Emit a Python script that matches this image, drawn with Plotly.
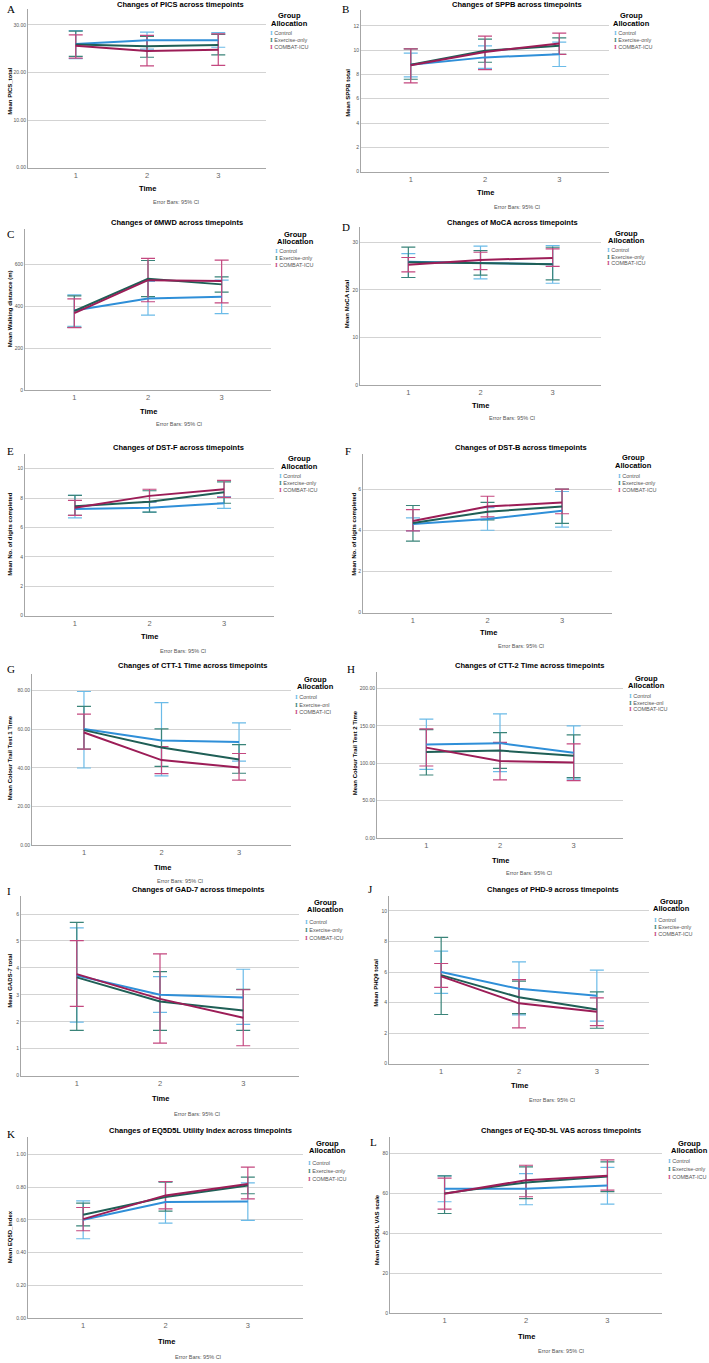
import plotly.graph_objects as go

W, H = 709, 1363
TIME = [1, 2, 3]
GROUPS = ["Control", "Exercise-only", "COMBAT-ICU"]

# ---- data: [Control, Exercise-only, COMBAT-ICU], each over timepoints 1..3 ----
pics_mean = [[26.0, 26.8, 26.8], [25.9, 25.5, 25.8], [25.6, 24.5, 24.8]]
pics_lo = [[22.9, 24.9, 25.3], [23.4, 23.2, 23.7], [23.0, 21.4, 21.5]]
pics_hi = [[28.8, 28.5, 28.4], [28.7, 27.6, 28.0], [27.9, 27.8, 28.1]]

sppb_mean = [[8.8, 9.4, 9.65], [8.8, 9.95, 10.35], [8.75, 9.85, 10.55]]
sppb_lo = [[7.8, 8.5, 8.65], [7.6, 9.0, 9.65], [7.3, 8.4, 9.65]]
sppb_hi = [[9.75, 10.35, 10.65], [10.1, 10.9, 11.0], [10.1, 11.15, 11.4]]

mwd_mean = [[380, 438, 446], [378, 532, 505], [368, 525, 521]]
mwd_lo = [[305, 358, 365], [300, 446, 468], [298, 422, 417]]
mwd_hi = [[455, 519, 525], [450, 619, 541], [436, 629, 621]]

moca_mean = [[25.9, 25.6, 25.4], [25.8, 25.6, 25.4], [25.3, 26.3, 26.7]]
moca_lo = [[22.6, 22.3, 21.4], [22.6, 23.1, 22.1], [23.8, 24.25, 24.95]]
moca_hi = [[27.6, 29.2, 29.3], [29.0, 28.25, 28.95], [26.8, 27.9, 28.6]]

dstf_mean = [[7.25, 7.35, 7.65], [7.45, 7.75, 8.4], [7.35, 8.15, 8.6]]
dstf_lo = [[6.66, 7.05, 7.3], [6.82, 7.05, 7.65], [6.82, 7.75, 8.05]]
dstf_hi = [[8.18, 7.7, 8.1], [8.18, 8.5, 9.1], [7.84, 8.6, 9.2]]

dstb_mean = [[4.3, 4.55, 4.95], [4.35, 4.9, 5.15], [4.45, 5.15, 5.35]]
dstb_lo = [[3.97, 4.0, 4.15], [3.47, 4.5, 4.33], [3.97, 4.65, 4.8]]
dstb_hi = [[4.6, 5.1, 5.88], [5.2, 5.35, 6.0], [5.0, 5.65, 6.0]]

ctt1_mean = [[60.1, 54.2, 53.3], [59.5, 50.5, 44.3], [58.3, 44.0, 40.2]]
ctt1_lo = [[39.9, 35.8, 43.5], [49.7, 40.8, 37.2], [49.7, 37.0, 33.6]]
ctt1_hi = [[79.5, 73.7, 63.3], [71.8, 60.2, 52.0], [67.8, 51.0, 47.4]]

ctt2_mean = [[125, 127, 114], [115, 117, 110], [121, 103, 101]]
ctt2_lo = [[92, 89, 79], [84.4, 93.3, 81], [96.4, 77.8, 77]]
ctt2_hi = [[159, 166, 150], [145, 141, 138], [146, 128, 126]]

gad_mean = [[3.72, 3.0, 2.9], [3.65, 2.75, 2.42], [3.77, 2.85, 2.15]]
gad_lo = [[1.99, 2.35, 1.9], [1.68, 1.68, 1.68], [2.57, 1.21, 1.11]]
gad_hi = [[5.49, 3.68, 3.95], [5.69, 3.86, 3.2], [5.01, 4.52, 3.19]]

phq_mean = [[6.0, 4.9, 4.45], [5.8, 4.35, 3.55], [5.72, 3.95, 3.4]]
phq_lo = [[4.6, 3.2, 2.78], [3.22, 3.28, 2.32], [4.99, 2.34, 2.49]]
phq_hi = [[7.37, 6.67, 6.13], [8.27, 5.4, 4.7], [6.56, 5.51, 4.31]]

eq_mean = [[0.601, 0.71, 0.712], [0.632, 0.74, 0.81], [0.605, 0.75, 0.82]]
eq_lo = [[0.485, 0.58, 0.597], [0.564, 0.654, 0.76], [0.534, 0.668, 0.729]]
eq_hi = [[0.717, 0.835, 0.827], [0.703, 0.831, 0.862], [0.676, 0.835, 0.923]]

vas_mean = [[62.3, 62.3, 64.0], [60.0, 65.5, 68.5], [59.8, 66.6, 68.8]]
vas_lo = [[55.8, 54.3, 54.6], [49.9, 57.4, 60.9], [52.1, 58.3, 61.6]]
vas_hi = [[68.8, 69.9, 73.0], [68.8, 73.3, 75.8], [67.6, 74.1, 76.8]]

LINE_COL = ["#2f8fd8", "#1f5f56", "#9c1d57"]
ERR_COL = ["#6bbbe8", "#3a8479", "#c4477f"]

FONT = "Liberation Sans, Arial, sans-serif"
SERIF = "Liberation Serif, Times New Roman, serif"


def px(x):
    return x / W


def py(y):
    return 1 - y / H


# panel layout spec (pixel geometry)
panels = [
    dict(letter="A", title="Changes of PICS across timepoints", ytitle="Mean PICS_total",
         mean=pics_mean, lo=pics_lo, hi=pics_hi, box=(28, 266, 9, 168), yr=33.35,
         ticks=[0, 10, 20, 30], fmt="{:.2f}",
         t=(180, 5), l=(5, 9), yt=(5, 92), tm=(147, 189), eb=(176, 202), lg=(289, 16), li=(268, 33, 7),
         labels=GROUPS),
    dict(letter="B", title="Changes of SPPB across timepoints", ytitle="Mean SPPB total",
         mean=sppb_mean, lo=sppb_lo, hi=sppb_hi, box=(361, 609, 10, 172), yr=13.3,
         ticks=[0, 2, 4, 6, 8, 10, 12], fmt="{:d}",
         t=(517, 5), l=(340, 9), yt=(343, 93), tm=(485, 193), eb=(517, 207), lg=(631, 16), li=(612, 33, 7),
         labels=GROUPS),
    dict(letter="C", title="Changes of 6MWD across timepoints", ytitle="Mean Walking distance (m)",
         mean=mwd_mean, lo=mwd_lo, hi=mwd_hi, box=(25, 271, 230, 391), yr=767,
         ticks=[0, 200, 400, 600], fmt="{:d}",
         t=(177, 223), l=(5, 235), yt=(5, 310), tm=(148, 412), eb=(179, 425), lg=(295, 235), li=(273, 252, 7),
         labels=GROUPS),
    dict(letter="D", title="Changes of MoCA across timepoints", ytitle="Mean MoCA total",
         mean=moca_mean, lo=moca_lo, hi=moca_hi, box=(360, 601, 228, 386), yr=33.1,
         ticks=[0, 10, 20, 30], fmt="{:d}",
         t=(512, 223), l=(340, 227), yt=(342, 305), tm=(481, 406), eb=(512, 419), lg=(626, 234), li=(605, 251, 6.5),
         labels=GROUPS),
    dict(letter="E", title="Changes of DST-F across timepoints", ytitle="Mean No. of digits completed",
         mean=dstf_mean, lo=dstf_lo, hi=dstf_hi, box=(25, 274, 455, 617), yr=11.0,
         ticks=[0, 2, 4, 6, 8, 10], fmt="{:d}",
         t=(178, 448), l=(5, 452), yt=(5, 535), tm=(149, 638), eb=(183, 652), lg=(299, 460), li=(277, 477, 7),
         labels=GROUPS),
    dict(letter="F", title="Changes of DST-B across timepoints", ytitle="Mean No. of digits completed",
         mean=dstb_mean, lo=dstb_lo, hi=dstb_hi, box=(363, 612, 455, 614), yr=7.7,
         ticks=[0, 2, 4, 6], fmt="{:d}",
         t=(521, 448), l=(343, 452), yt=(349, 535), tm=(488, 634), eb=(521, 647), lg=(633, 459), li=(616, 477, 7),
         labels=GROUPS),
    dict(letter="G", title="Changes of CTT-1 Time across timepoints", ytitle="Mean Colour Trail Test 1 Time",
         mean=ctt1_mean, lo=ctt1_lo, hi=ctt1_hi, box=(32, 291, 675, 847), yr=88.8,
         ticks=[0, 20, 40, 60, 80], fmt="{:.2f}",
         t=(192, 667), l=(5, 670), yt=(5, 760), tm=(162, 869), eb=(180, 883), lg=(315, 681), li=(293, 699, 7.5),
         labels=["Control", "Exercise-onl", "COMBAT-ICI"]),
    dict(letter="H", title="Changes of CTT-2 Time across timepoints", ytitle="Mean Colour Trail Test 2 Time",
         mean=ctt2_mean, lo=ctt2_lo, hi=ctt2_hi, box=(377, 623, 673, 840), yr=222.7,
         ticks=[0, 50, 100, 150, 200], fmt="{:.2f}",
         t=(529, 667), l=(345, 670), yt=(350, 755), tm=(500, 862), eb=(529, 875), lg=(646, 680), li=(627, 698, 6.5),
         labels=["Control", "Exercise-onl", "COMBAT-ICU"]),
    dict(letter="I", title="Changes of GAD-7 across timepoints", ytitle="Mean GADS-7 total",
         mean=gad_mean, lo=gad_lo, hi=gad_hi, box=(21, 299, 898, 1078), yr=6.67,
         ticks=[0, 1, 2, 3, 4, 5, 6], fmt="{:d}",
         t=(198, 891), l=(5, 893), yt=(5, 983), tm=(160, 1101), eb=(197, 1116), lg=(325, 904), li=(303, 924, 8),
         labels=GROUPS),
    dict(letter="J", title="Changes of PHD-9 across timepoints", ytitle="Mean PHQ9 total",
         mean=phq_mean, lo=phq_lo, hi=phq_hi, box=(389, 649, 898, 1066), yr=10.98,
         ticks=[0, 2, 4, 6, 8, 10], fmt="{:d}",
         t=(553, 891), l=(366, 891), yt=(371, 985), tm=(519, 1088), eb=(552, 1102), lg=(671, 903), li=(652, 922, 7),
         labels=GROUPS),
    dict(letter="K", title="Changes of EQ5D5L Utility Index across timepoints", ytitle="Mean EQ5D_index",
         mean=eq_mean, lo=eq_lo, hi=eq_hi, box=(28, 303, 1140, 1321), yr=1.104,
         ticks=[0, 0.2, 0.4, 0.6, 0.8, 1.0], fmt="{:.2f}",
         t=(200, 1133), l=(5, 1137), yt=(5, 1240), tm=(166, 1344), eb=(198, 1360), lg=(327, 1146), li=(306, 1166, 8),
         labels=GROUPS),
    dict(letter="L", title="Changes of EQ-5D-5L VAS across timepoints", ytitle="Mean EQ5D5L VAS scale",
         mean=vas_mean, lo=vas_lo, hi=vas_hi, box=(390, 662, 1140, 1316), yr=88,
         ticks=[0, 20, 40, 60, 80], fmt="{:d}",
         t=(561, 1133), l=(368, 1145), yt=(372, 1233), tm=(526, 1339), eb=(561, 1354), lg=(689, 1146), li=(666, 1164, 8),
         labels=GROUPS),
]

fig = go.Figure()
annotations = []
layout = {}


def ann(x, y, text, size, color="#000", xanchor="center", yanchor="middle", angle=0, family=FONT):
    annotations.append(dict(x=px(x), y=py(y), xref="paper", yref="paper", text=text, showarrow=False,
                            xanchor=xanchor, yanchor=yanchor, textangle=angle,
                            font=dict(size=size, color=color, family=family)))


for i, p in enumerate(panels):
    n = "" if i == 0 else str(i + 1)
    xa, ya = "x" + n, "y" + n
    left, right, top, bottom = p["box"]
    layout["xaxis" + n] = dict(domain=[px(left), px(right)], range=[0.33, 3.67], anchor=ya,
                               tickvals=TIME, ticktext=[str(t) for t in TIME], showgrid=False, zeroline=False,
                               showline=True, linecolor="#a6a6a6", linewidth=1, ticks="",
                               tickfont=dict(size=7.5, color="#666", family=FONT), fixedrange=True)
    layout["yaxis" + n] = dict(domain=[py(bottom), py(top)], range=[0, p["yr"]], anchor=xa,
                               tickvals=p["ticks"],
                               ticktext=[p["fmt"].format(int(v)) if p["fmt"] == "{:d}" else p["fmt"].format(v)
                                         for v in p["ticks"]],
                               showgrid=True, gridcolor="#d3d3d3", gridwidth=1.3, zeroline=False,
                               showline=True, linecolor="#a6a6a6", linewidth=1, ticks="",
                               tickfont=dict(size=5, color="#555", family=FONT), fixedrange=True)
    # error bars
    for g in range(3):
        m = p["mean"][g]
        fig.add_trace(go.Scatter(
            x=TIME, y=m, xaxis=xa, yaxis=ya, mode="markers", marker=dict(size=1, opacity=0),
            showlegend=False, hoverinfo="skip",
            error_y=dict(type="data", symmetric=False,
                         array=[h - v for h, v in zip(p["hi"][g], m)],
                         arrayminus=[v - lo for lo, v in zip(p["lo"][g], m)],
                         width=7, thickness=1.2, color=ERR_COL[g])))
    # mean lines
    for g in range(3):
        fig.add_trace(go.Scatter(x=TIME, y=p["mean"][g], xaxis=xa, yaxis=ya, mode="lines",
                                 line=dict(color=LINE_COL[g], width=2), name=GROUPS[g], showlegend=False))
    # texts
    ann(*p["t"], "<b>" + p["title"] + "</b>", 7.5)
    ann(*p["l"], p["letter"], 11, xanchor="left", family=SERIF)
    ann(*p["yt"], "<b>" + p["ytitle"] + "</b>", 6, xanchor="left", angle=-90)
    ann(*p["tm"], "<b>Time</b>", 7.5)
    ann(*p["eb"], "Error Bars: 95% CI", 5.5, color="#555")
    lx, ly = p["lg"]
    ann(lx, ly, "<b>Group</b>", 7.5)
    ann(lx, ly + 7.5, "<b>Allocation</b>", 7.5)
    ix, iy, step = p["li"]
    for g in range(3):
        ann(ix, iy + g * step,
            "<span style='color:%s;font-size:7px;font-family:Liberation Serif'><b>I</b></span> %s"
            % (ERR_COL[g], p["labels"][g]), 5.5, color="#555", xanchor="left")

fig.update_layout(width=W, height=H, margin=dict(l=0, r=0, t=0, b=0), paper_bgcolor="white",
                  plot_bgcolor="white", showlegend=False, annotations=annotations, **layout)

fig.write_html("out.html")
